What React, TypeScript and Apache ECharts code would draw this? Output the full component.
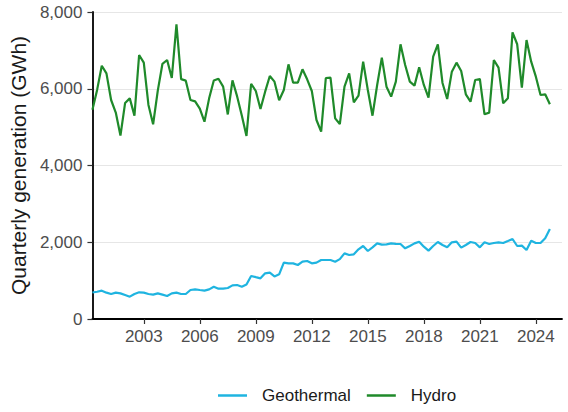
import React, { useEffect, useRef } from "react";
import * as echarts from "echarts";

// Quarterly data, first quarter ends March 2000 (plotted at quarter end)
const startYear = 2000;
const hydro = [
  5450, 5970, 6600, 6400, 5707, 5380, 4780, 5630, 5750, 5300,
  6880, 6680, 5577, 5075, 5950, 6650, 6749, 6280, 7679, 6250,
  6211, 5707, 5670, 5480, 5142, 5750, 6215, 6260, 6054, 5330,
  6220, 5800, 5300, 4770, 6130, 5941, 5472, 5924, 6332, 6185,
  5699, 5967, 6636, 6159, 6159, 6506, 6246, 5941, 5186, 4881,
  6280, 6289, 5229, 5081, 6054, 6402, 5646, 5820, 6706, 5967,
  5298, 6098, 6810, 6054, 5794, 6185, 7159, 6619, 6185, 6081,
  6559, 6098, 5768, 6837, 7159, 6150, 5733, 6445, 6680, 6463,
  5855, 5663, 6228, 6254, 5334, 5377, 6749, 6550, 5620, 5750,
  7470, 7159, 6029, 7270, 6706, 6315, 5837, 5855, 5594,
];
const geothermal = [
  690, 710, 738, 686, 651, 686, 668, 625, 582, 651,
  695, 686, 651, 634, 668, 634, 599, 668, 686, 651,
  651, 755, 773, 755, 738, 773, 842, 790, 790, 808,
  877, 886, 842, 900, 1121, 1090, 1060, 1190, 1207, 1110,
  1164, 1468, 1450, 1450, 1407, 1494, 1511, 1450, 1468, 1537,
  1537, 1537, 1494, 1560, 1711, 1668, 1685, 1815, 1902, 1772,
  1867, 1972, 1937, 1946, 1972, 1960, 1954, 1841, 1902, 1970,
  2015, 1885, 1781, 1902, 2006, 1928, 1867, 1998, 2015, 1859,
  1928, 2006, 1980, 1867, 1998, 1954, 1980, 1998, 1980, 2032,
  2085, 1902, 1911, 1798, 2041, 1980, 1980, 2102, 2345,
];
const xTickYears = [2003, 2006, 2009, 2012, 2015, 2018, 2021, 2024];

const FONT = "Liberation Sans, Arial, sans-serif";
const GEO_COLOR = "#1fb4e0";
const HYDRO_COLOR = "#1f8a2a";

export default function App() {
  const ref = useRef<HTMLDivElement>(null);
  useEffect(() => {
    if (!ref.current) return;
    const chart = echarts.init(ref.current, null, { renderer: "svg" });
    const toPairs = (arr: number[]) =>
      arr.map((v, i) => [startYear + (i + 1) * 0.25, v]);
    chart.setOption({
      animation: false,
      backgroundColor: "#ffffff",
      textStyle: { fontFamily: FONT },
      grid: { left: 91, right: 6, top: 12, bottom: 93, containLabel: false },
      legend: {
        bottom: 8,
        left: 218,
        padding: 0,
        icon: "rect",
        itemWidth: 29,
        itemHeight: 2.5,
        itemGap: 16,
        textStyle: { fontSize: 17, color: "#1a1a1a", fontFamily: FONT, padding: [0, 0, 0, 10] },
        data: ["Geothermal", "Hydro"],
      },
      xAxis: {
        type: "value",
        min: startYear + 0.25,
        max: 2025.4,
        axisLine: { show: true, onZero: false, lineStyle: { color: "#000", width: 1.8 } },
        axisTick: { show: true, length: 5, customValues: xTickYears, lineStyle: { color: "#333", width: 1.2 } },
        axisLabel: {
          customValues: xTickYears,
          fontSize: 17,
          color: "#4d4d4d",
          margin: 9,
          fontFamily: FONT,
          formatter: (v: number) => String(Math.round(v)),
        },
        splitLine: { show: false },
      },
      yAxis: {
        type: "value",
        min: 0,
        max: 8000,
        interval: 2000,
        name: "Quarterly generation (GWh)",
        nameLocation: "middle",
        nameGap: 62,
        nameTextStyle: { fontSize: 21, color: "#1a1a1a", fontFamily: FONT },
        axisLine: { show: true, lineStyle: { color: "#000", width: 1.8 } },
        axisTick: { show: true, length: 5, lineStyle: { color: "#333", width: 1.2 } },
        axisLabel: {
          fontSize: 17,
          color: "#4d4d4d",
          margin: 10,
          fontFamily: FONT,
          formatter: (v: number) => v.toLocaleString("en-US"),
        },
        splitLine: { show: true, lineStyle: { color: "#e6e6e6", width: 1.2 } },
      },
      series: [
        {
          name: "Geothermal",
          type: "line",
          symbol: "none",
          data: toPairs(geothermal),
          lineStyle: { color: GEO_COLOR, width: 2.2 },
          itemStyle: { color: GEO_COLOR },
        },
        {
          name: "Hydro",
          type: "line",
          symbol: "none",
          data: toPairs(hydro),
          lineStyle: { color: HYDRO_COLOR, width: 2.2 },
          itemStyle: { color: HYDRO_COLOR },
        },
      ],
    });
    return () => chart.dispose();
  }, []);
  return (
    <div
      ref={ref}
      style={{ position: "fixed", left: 0, top: 0, width: 568, height: 412, background: "#fff" }}
    />
  );
}
